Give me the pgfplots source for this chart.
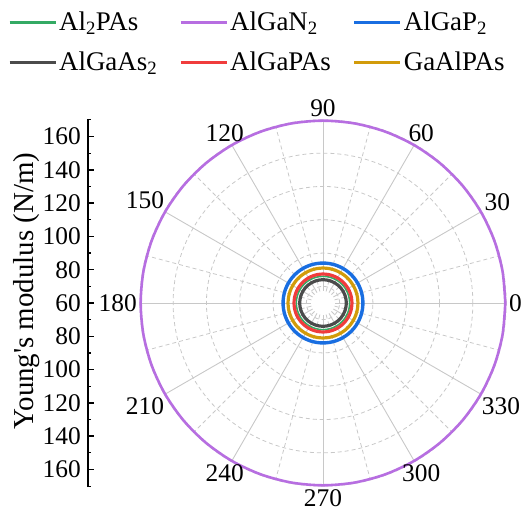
\documentclass[border=0pt]{standalone}
\usepackage{fontspec}
\setmainfont{Liberation Serif}
\usepackage{pgfplots}
\pgfplotsset{compat=1.18}
\usepackage{pgfplotstable}
\definecolor{cgreen}{RGB}{52,170,100}
\definecolor{cpurple}{RGB}{183,110,225}
\definecolor{cblue}{RGB}{25,110,225}
\definecolor{cgray}{RGB}{75,75,75}
\definecolor{cred}{RGB}{240,60,60}
\definecolor{cgold}{RGB}{210,155,10}
\definecolor{gridc}{RGB}{200,200,200}
\pgfplotstableread{
theta Al2PAs AlGaN2 AlGaP2 AlGaAs2 AlGaPAs GaAlPAs
0   76 169.5 84 74 77.4 81
10  76 169.5 84 74 77.4 81
20  76 169.5 84 74 77.4 81
30  76 169.5 84 74 77.4 81
40  76 169.5 84 74 77.4 81
50  76 169.5 84 74 77.4 81
60  76 169.5 84 74 77.4 81
70  76 169.5 84 74 77.4 81
80  76 169.5 84 74 77.4 81
90  76 169.5 84 74 77.4 81
100 76 169.5 84 74 77.4 81
110 76 169.5 84 74 77.4 81
120 76 169.5 84 74 77.4 81
130 76 169.5 84 74 77.4 81
140 76 169.5 84 74 77.4 81
150 76 169.5 84 74 77.4 81
160 76 169.5 84 74 77.4 81
170 76 169.5 84 74 77.4 81
180 76 169.5 84 74 77.4 81
190 76 169.5 84 74 77.4 81
200 76 169.5 84 74 77.4 81
210 76 169.5 84 74 77.4 81
220 76 169.5 84 74 77.4 81
230 76 169.5 84 74 77.4 81
240 76 169.5 84 74 77.4 81
250 76 169.5 84 74 77.4 81
260 76 169.5 84 74 77.4 81
270 76 169.5 84 74 77.4 81
280 76 169.5 84 74 77.4 81
290 76 169.5 84 74 77.4 81
300 76 169.5 84 74 77.4 81
310 76 169.5 84 74 77.4 81
320 76 169.5 84 74 77.4 81
330 76 169.5 84 74 77.4 81
340 76 169.5 84 74 77.4 81
350 76 169.5 84 74 77.4 81
360 76 169.5 84 74 77.4 81
}\datatable
\newcommand{\polplot}[2]{\addplot[#1, smooth] table[x expr={(\thisrow{#2}-60)*cos(\thisrow{theta})}, y expr={(\thisrow{#2}-60)*sin(\thisrow{theta})}] {\datatable};}
\begin{document}
\begin{tikzpicture}
\useasboundingbox (-323bp,-209bp) rectangle (204bp,303bp);
% grid
\foreach \v in {70,90,110,130,150,170}{
  \pgfmathsetmacro\rr{(\v-60)*1.665}
  \draw[gridc, line width=0.8bp, dash pattern=on 4bp off 3bp] (0,0) circle[radius=\rr bp];
}
\foreach \a in {0,30,...,330}{
  \draw[gridc, line width=0.9bp] (\a:12bp) -- (\a:183bp);
}
\foreach \a in {15,45,...,345}{
  \draw[gridc, line width=0.8bp, dash pattern=on 4bp off 3bp] (\a:12bp) -- (\a:183bp);
}
\begin{axis}[at={(0,0)}, anchor=center, x=1.665bp, y=1.665bp,
  xmin=-110, xmax=110, ymin=-110, ymax=110, hide axis, clip=false,
  legend style={at={(-0.36,1.30)}, anchor=north west, draw=none, fill=none,
    font=\fontsize{27}{32}\selectfont, inner sep=0pt,
    /tikz/every even column/.append style={column sep=20bp}, row sep=16bp},
  legend columns=3, legend cell align=left,
  legend image code/.code={\draw[#1, line width=3bp] (0bp,0bp) -- (46bp,0bp);},
]
\polplot{cgreen, line width=1.6bp}{Al2PAs}
\addlegendentry{Al\textsubscript{2}PAs}
\polplot{cpurple, line width=2.6bp}{AlGaN2}
\addlegendentry{AlGaN\textsubscript{2}}
\polplot{cblue, line width=3.4bp}{AlGaP2}
\addlegendentry{AlGaP\textsubscript{2}}
\polplot{cgray, line width=3.2bp}{AlGaAs2}
\addlegendentry{AlGaAs\textsubscript{2}}
\polplot{cred, line width=3.2bp}{AlGaPAs}
\addlegendentry{AlGaPAs}
\polplot{cgold, line width=3.2bp}{GaAlPAs}
\addlegendentry{GaAlPAs}
\end{axis}
% angle labels
\foreach \a in {0,30,...,330}{
  \pgfmathtruncatemacro\b{mod(\a+180,360)}
  \node[anchor=\b, inner sep=2bp, font=\fontsize{25.5}{30}\selectfont] at (\a:184bp) {\a};
}
% left radial axis
\draw[line width=2bp] (-235bp,-184bp) -- (-235bp,184bp);
\foreach \v in {60,80,...,160}{
  \pgfmathsetmacro\yy{(\v-60)*1.665}
  \draw[line width=1.5bp] (-235bp,\yy bp) -- (-229bp,\yy bp);
  \draw[line width=1.5bp] (-235bp,-\yy bp) -- (-229bp,-\yy bp);
  \node[anchor=east, inner sep=0pt, font=\fontsize{25.5}{30}\selectfont] at (-242bp,\yy bp) {\v};
  \ifnum\v>60
  \node[anchor=east, inner sep=0pt, font=\fontsize{25.5}{30}\selectfont] at (-242bp,-\yy bp) {\v};
  \fi
}
\foreach \v in {70,90,...,170}{
  \pgfmathsetmacro\yy{(\v-60)*1.665}
  \draw[line width=1.2bp] (-235bp,\yy bp) -- (-231.5bp,\yy bp);
  \draw[line width=1.2bp] (-235bp,-\yy bp) -- (-231.5bp,-\yy bp);
}
\node[rotate=90, font=\fontsize{29}{34}\selectfont] at (-296bp,12bp) {Young\textquotesingle s modulus (N/m)};
\end{tikzpicture}
\end{document}
